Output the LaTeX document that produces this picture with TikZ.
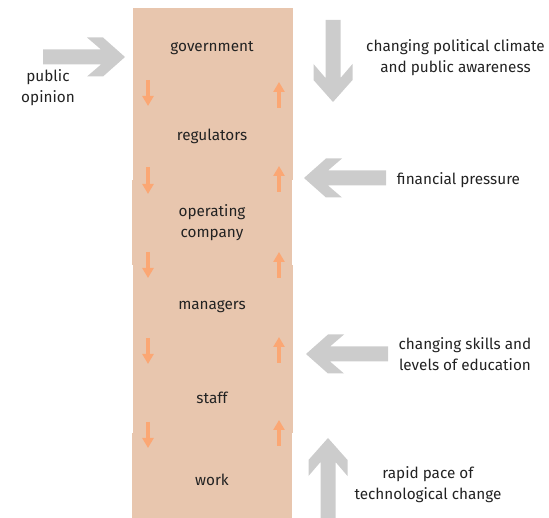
\documentclass[tikz,border=0pt]{standalone}
\usepackage{fontspec}
\setmainfont{Fira Sans}
\usetikzlibrary{arrows.meta}

\definecolor{panelbeige}{HTML}{E8C6AE}
\definecolor{flowor}{HTML}{FBA774}
\definecolor{forcegrey}{HTML}{CCCCCC}
\definecolor{textdark}{HTML}{222222}

% grey force arrow: tip, angle, length
\newcommand{\forcearrow}[3]{%
  \fill[forcegrey, shift={#1}, rotate=#2] (0,0) -- (-22,19.5) -- (-38,19.5) -- (-24,7.5) -- (-#3,7.5)
    -- (-#3,-7.5) -- (-24,-7.5) -- (-38,-19.5) -- (-22,-19.5) -- cycle;}

\tikzset{
  lbl/.style={font=\fontsize{15.3}{21}\selectfont, align=center, text=textdark, inner sep=0pt},
  flowarrow/.style={flowor, line width=4pt, -{Triangle[width=11pt,length=10pt]}}
}

\begin{document}
\begin{tikzpicture}[x=1pt,y=-1pt]
	\useasboundingbox (0,0) rectangle (549,518);
	% stacked panels
	\fill[panelbeige] (133,8) rectangle (292.7,180);
	\fill[panelbeige] (132,180) rectangle (292,265);
	\fill[panelbeige] (133,265) rectangle (293.3,433);
	\fill[panelbeige] (132,433) rectangle (292,518);
	% levels
	\node[lbl] (gov) at (212,48) {government};
	\node[lbl] (reg) at (212,136) {regulators};
	\node[lbl] (comp) at (212,223) {operating\\company};
	\node[lbl] (man) at (212,307) {managers};
	\node[lbl] (staff) at (212,398) {staff};
	\node[lbl] (work) at (212,480) {work};
	% down and up flows
	\foreach \ya/\yb in {80/106,167/194,252/278,338/364,422/448}
		\draw[flowarrow] (148,\ya) -- (148,\yb);
	\foreach \ya/\yb in {108/82,192/166,278/252,363/337,446/420}
		\draw[flowarrow] (279,\ya) -- (279,\yb);
	% outside forces
	\forcearrow{(125,57)}{0}{82}
	\node[lbl] (pub) at (48,88) {public\\opinion};
	\forcearrow{(333,102)}{-90}{82}
	\node[lbl] (pol) at (455.5,58) {changing political climate\\and public awareness};
	\forcearrow{(304,178)}{180}{82}
	\node[lbl] (fin) at (458.5,180.5) {financial pressure};
	\forcearrow{(306,354)}{180}{82}
	\node[lbl] (edu) at (465,354) {changing skills and\\levels of education};
	\forcearrow{(328,438)}{90}{84}
	\node[lbl] (tech) at (428,485) {rapid pace of\\technological change};
\end{tikzpicture}
\end{document}
